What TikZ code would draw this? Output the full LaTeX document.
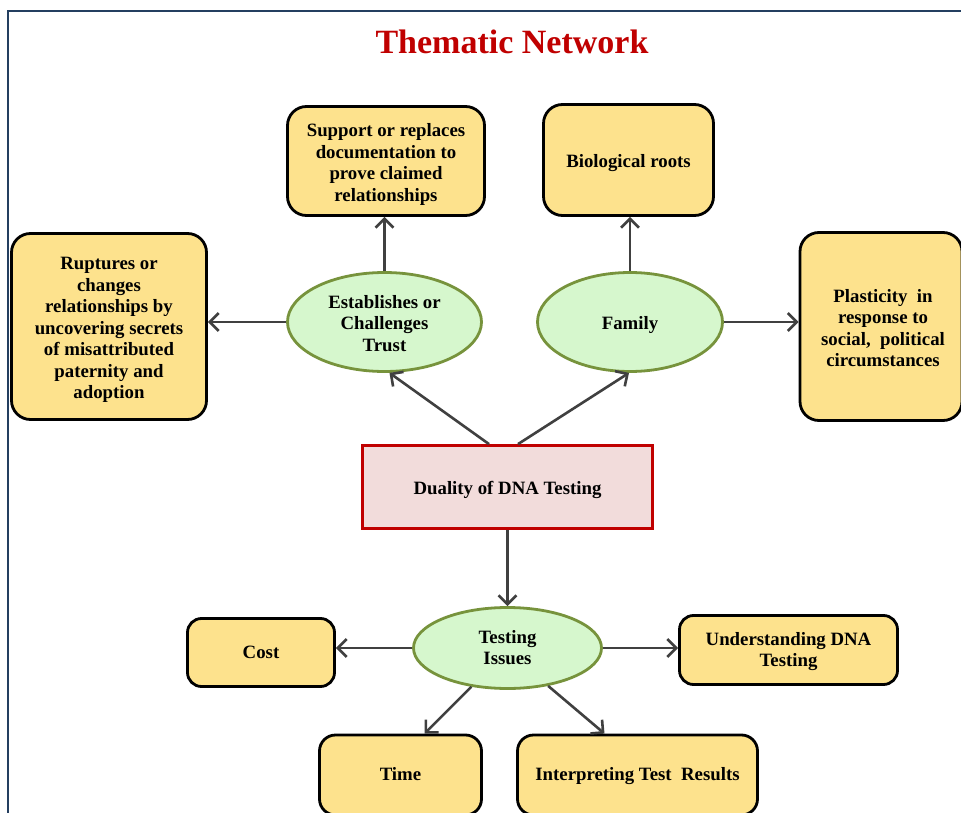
\documentclass[tikz,border=0pt]{standalone}
\usepackage{fontspec}
\setmainfont{Liberation Serif}
\usetikzlibrary{arrows.meta,shapes.geometric}
\definecolor{boxfill}{HTML}{FDE28D}
\definecolor{ellfill}{HTML}{D6F7CD}
\definecolor{elldraw}{HTML}{77933C}
\definecolor{dualfill}{HTML}{F2DCDB}
\definecolor{dualdraw}{HTML}{C00000}
\definecolor{titlered}{HTML}{C00000}
\definecolor{arrgray}{HTML}{404040}
\definecolor{framecol}{HTML}{243F60}
\newcommand\lowtxt[2][3.5pt]{\raisebox{-#1}[\height][\depth]{\begin{tabular}{@{}c@{}}#2\end{tabular}}}
\tikzset{
  txt/.style={font=\bfseries\fontsize{18.8}{21.5}\selectfont, align=center, text=black, inner sep=0pt},
  ybox/.style={txt, draw=black, line width=2.8pt, fill=boxfill, rounded corners=19pt},
  ell/.style={txt, ellipse, draw=elldraw, line width=2.8pt, fill=ellfill},
  dualbox/.style={txt, draw=dualdraw, line width=2.8pt, fill=dualfill},
  arr/.style={draw=arrgray, line width=2.6pt, -{Straight Barb[length=9pt,width=18pt,line width=2.6pt]}},
}
\begin{document}
\begin{tikzpicture}[x=1pt,y=-1pt]
\useasboundingbox (0,0) rectangle (961,813);
\clip (0,0) rectangle (961,813);
\fill[white] (0,0) rectangle (961,813);
\draw[framecol, line width=1.5pt] (8,900) -- (8,11) -- (1000,11);

\node[font=\bfseries\fontsize{34}{40}\selectfont, text=titlered, inner sep=0pt] (title) at (512,42) {Thematic Network};

\node[ybox, minimum width=197pt, minimum height=109pt] (sup) at (386,161) {\lowtxt{Support or replaces\\documentation to\\prove claimed\\relationships}};
\node[ybox, minimum width=170pt, minimum height=111pt] (bio) at (628.5,160) {\lowtxt{Biological roots}};
\node[ybox, minimum width=195pt, minimum height=186pt] (rup) at (109,326.5) {\lowtxt{Ruptures or\\changes\\relationships by\\uncovering secrets\\of misattributed\\paternity and\\adoption}};
\node[ybox, minimum width=162pt, minimum height=188pt] (pla) at (881,326.5) {\lowtxt{\hspace*{4pt}Plasticity~~in\\\hspace*{4pt}response to\\\hspace*{4pt}social,~~political\\\hspace*{4pt}circumstances}};

\node[ell, minimum width=194pt, minimum height=99pt] (est) at (384.5,322) {\lowtxt{Establishes or\\Challenges\\Trust}};
\node[ell, minimum width=185pt, minimum height=99pt] (fam) at (630,322) {\lowtxt{Family}};

\node[dualbox, minimum width=290pt, minimum height=83pt] (dual) at (507.5,487) {\lowtxt{Duality of DNA Testing}};

\node[ell, minimum width=188pt, minimum height=81pt] (test) at (507.5,648) {\lowtxt[1.5pt]{Testing\\Issues}};
\node[ybox, minimum width=147pt, minimum height=68pt, rounded corners=14pt] (cost) at (261,652.5) {\lowtxt[1.5pt]{Cost}};
\node[ybox, minimum width=218pt, minimum height=69pt, rounded corners=14pt] (und) at (788.5,650) {\lowtxt[1.5pt]{Understanding DNA\\Testing}};
\node[ybox, minimum width=162pt, minimum height=80pt, rounded corners=16pt] (time) at (400.5,775) {\lowtxt[1.5pt]{Time}};
\node[ybox, minimum width=240pt, minimum height=80pt, rounded corners=16pt] (interp) at (637.5,775) {\lowtxt[1.5pt]{Interpreting Test~~Results}};

\draw[arr] (est.north) -- (est.north |- sup.south);
\draw[arr] (fam.north) -- (fam.north |- bio.south);
\draw[arr] (est.west) -- (est.west -| rup.east);
\draw[arr] (fam.east) -- (fam.east -| pla.west);
\draw[arr] ([xshift=-18.5pt]dual.north) -- ([xshift=5pt]est.south);
\draw[arr] ([xshift=10.5pt]dual.north) -- ([xshift=-1pt]fam.south);
\draw[arr] (dual.south) -- (test.north);
\draw[arr] (test.west) -- (test.west -| cost.east);
\draw[arr] (test.east) -- (test.east -| und.west);
\draw[arr] (test.227) -- ([xshift=24pt]time.north);
\draw[arr] (test.317) -- ([xshift=-33pt]interp.north);
\end{tikzpicture}
\end{document}
